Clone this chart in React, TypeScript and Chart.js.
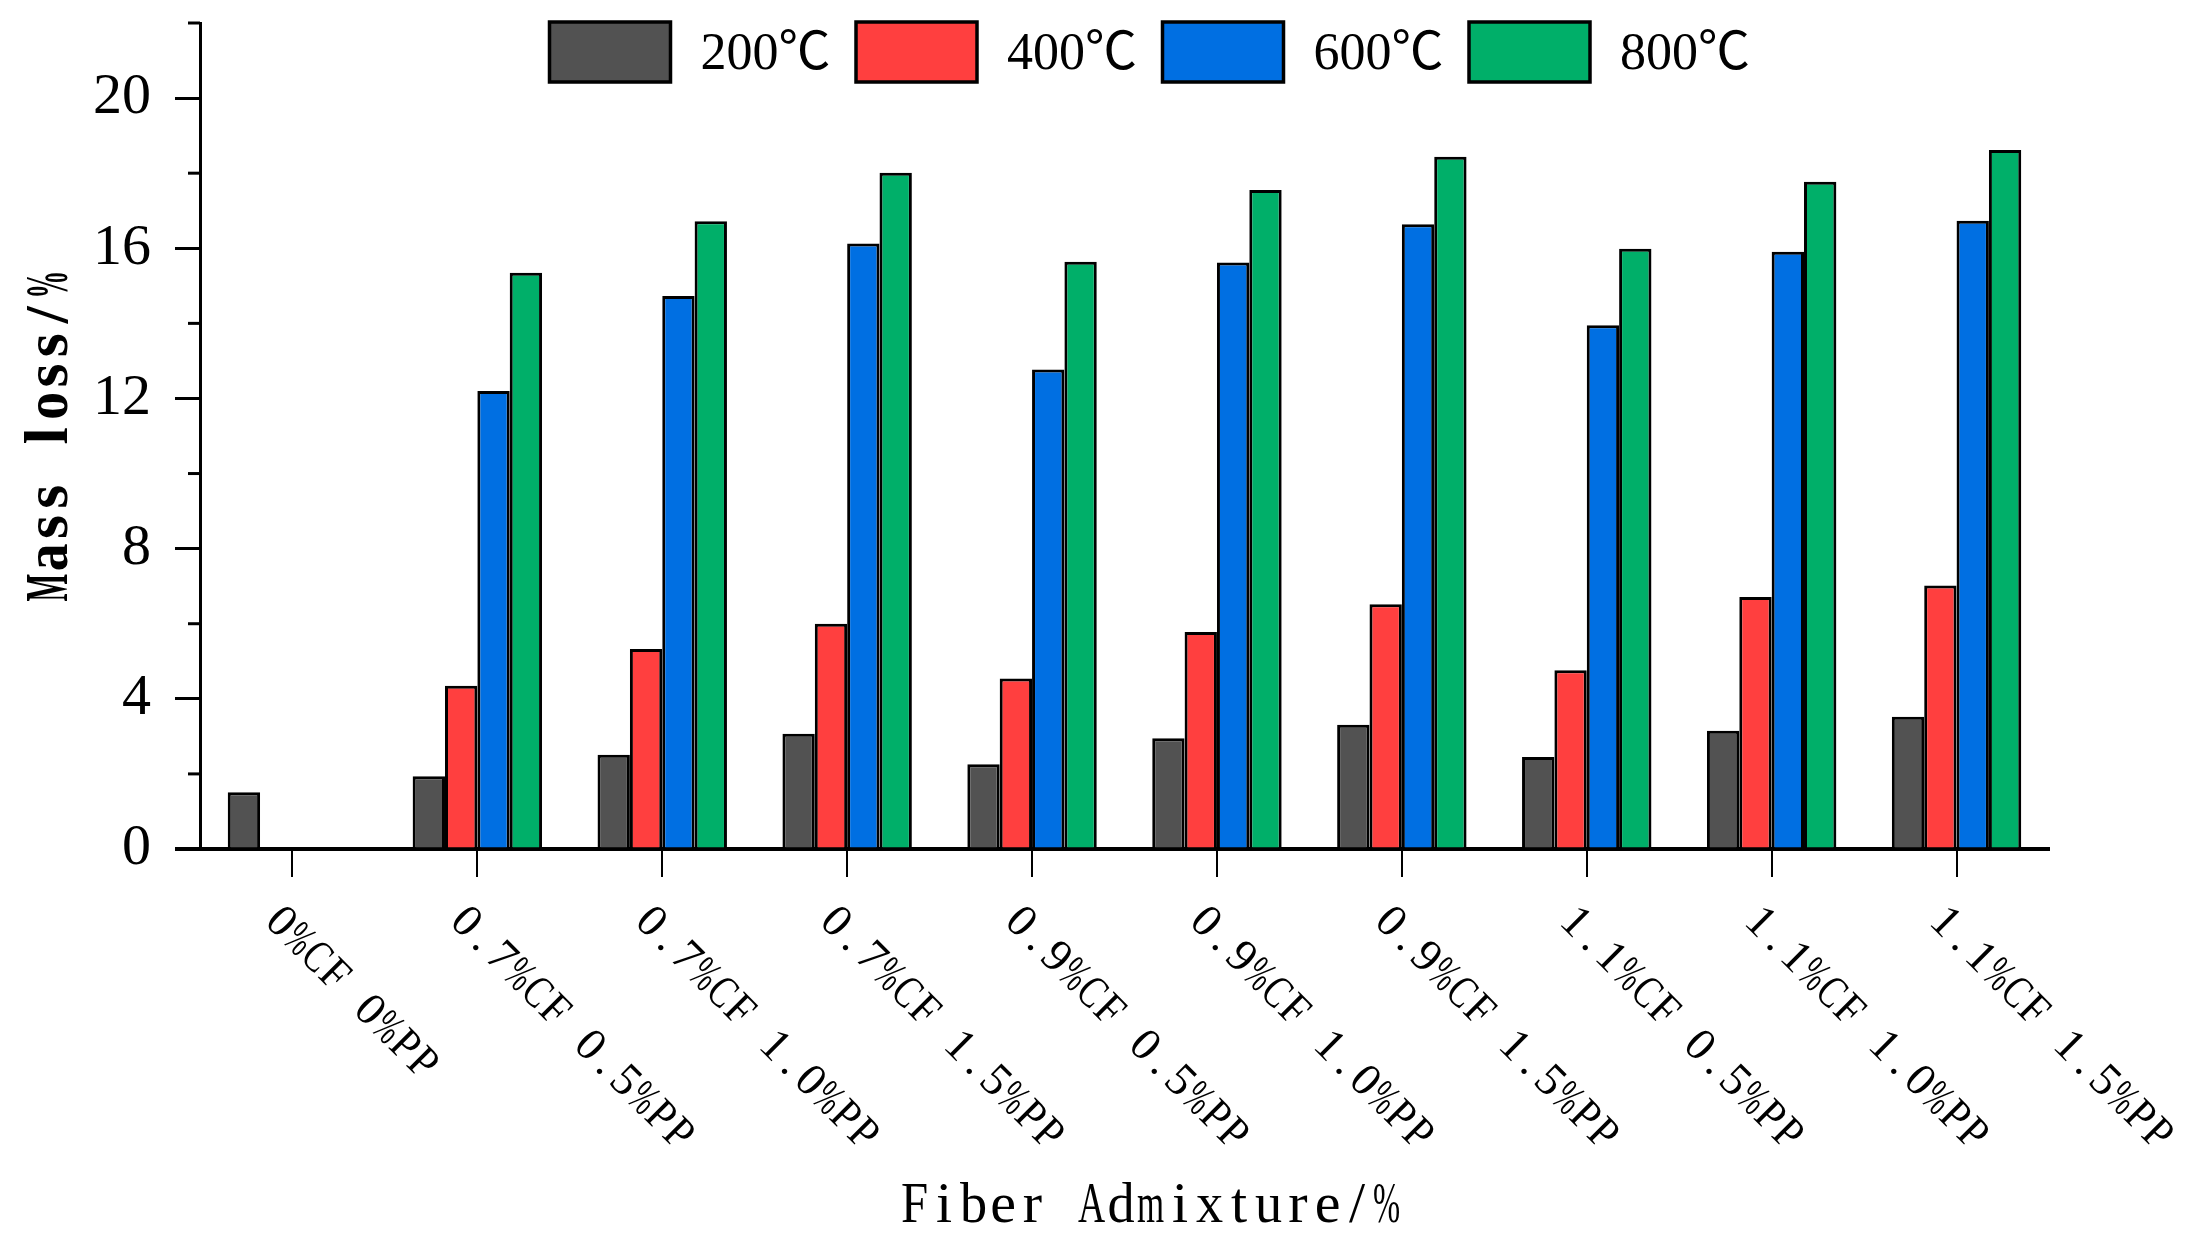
import { useEffect, useRef } from 'react'
import { Chart, registerables, type Plugin } from 'chart.js'

Chart.register(...registerables)

const categories = [
  '0%CF 0%PP',
  '0.7%CF 0.5%PP',
  '0.7%CF 1.0%PP',
  '0.7%CF 1.5%PP',
  '0.9%CF 0.5%PP',
  '0.9%CF 1.0%PP',
  '0.9%CF 1.5%PP',
  '1.1%CF 0.5%PP',
  '1.1%CF 1.0%PP',
  '1.1%CF 1.5%PP',
]
const seriesLabels = ['200℃', '400℃', '600℃', '800℃']
const loss200 = [1.51, 1.94, 2.51, 3.07, 2.26, 2.95, 3.31, 2.45, 3.15, 3.52]
const loss400 = [null, 4.35, 5.33, 6.0, 4.54, 5.78, 6.52, 4.76, 6.71, 7.02]
const loss600 = [null, 12.2, 14.73, 16.13, 12.77, 15.62, 16.64, 13.95, 15.91, 16.73]
const loss800 = [null, 15.35, 16.72, 18.01, 15.64, 17.55, 18.44, 15.99, 17.77, 18.62]
const seriesColors = ['#525252', '#FF3F3F', '#006FE2', '#00AF69']
const yMax = 22
const yStep = 2
const yLabelEvery = 4
const xTitle = 'Fiber Admixture/%'
const yTitle = 'Mass loss/%'

const serif = '"Liberation Serif", "Noto Sans CJK SC", serif'

// draw text with fixed-width cells, like the SimSun look of the original
const drawMono = (
  ctx: CanvasRenderingContext2D,
  text: string,
  x: number,
  y: number,
  angle: number,
  cell: number,
  font: string,
  centered: boolean,
) => {
  ctx.save()
  ctx.translate(x, y)
  ctx.rotate(angle)
  ctx.font = font
  ctx.textAlign = 'center'
  ctx.textBaseline = 'middle'
  ctx.fillStyle = '#000'
  const start = centered ? -(text.length * cell) / 2 : 0
  Array.from(text).forEach((ch, i) => {
    if (ch === ' ') return
    const w = ctx.measureText(ch).width
    const sx = w > cell * 0.92 ? (cell * 0.92) / w : 1
    ctx.save()
    ctx.translate(start + (i + 0.5) * cell, 0)
    ctx.scale(sx, 1)
    ctx.fillText(ch, 0, 0)
    ctx.restore()
  })
  ctx.restore()
}

const axisDecor: Plugin<'bar'> = {
  id: 'axisDecor',
  afterDraw(chart) {
    const { ctx, chartArea, scales } = chart
    const xs = scales.x
    const ys = scales.y

    ctx.save()
    ctx.strokeStyle = '#000'
    ctx.lineWidth = 3
    ys.ticks.forEach((t) => {
      if (t.value % yLabelEvery === 0) return
      const py = ys.getPixelForValue(t.value)
      ctx.beginPath()
      ctx.moveTo(chartArea.left - 12, py)
      ctx.lineTo(chartArea.left, py)
      ctx.stroke()
    })
    ctx.lineWidth = 4
    ctx.beginPath()
    ctx.moveTo(chartArea.left - 25, chartArea.bottom)
    ctx.lineTo(chartArea.left, chartArea.bottom)
    ctx.stroke()

    // legend in one row inside the top of the plot
    const itemStep = 306.5
    const boxW = 121
    const boxH = 60
    const legendX = (chartArea.left + chartArea.right) / 2 + 23 - (itemStep * chart.data.datasets.length - 30) / 2
    const legendY = chartArea.top - 1
    ctx.font = `52px ${serif}`
    ctx.textAlign = 'left'
    ctx.textBaseline = 'middle'
    chart.data.datasets.forEach((ds, i) => {
      const bx = legendX + i * itemStep
      ctx.fillStyle = ds.backgroundColor as string
      ctx.fillRect(bx, legendY, boxW, boxH)
      ctx.lineWidth = 3.5
      ctx.strokeStyle = '#000'
      ctx.strokeRect(bx, legendY, boxW, boxH)
      ctx.fillStyle = '#000'
      ctx.fillText(ds.label ?? '', bx + boxW + 30, legendY + boxH / 2 + 3)
    })
    ctx.restore()

    categories.forEach((label, i) => {
      drawMono(ctx, label, xs.getPixelForTick(i) - 21, chartArea.bottom + 65, Math.PI / 4, 25, `46px ${serif}`, false)
    })
    drawMono(ctx, xTitle, (chartArea.left + chartArea.right) / 2 + 26, chartArea.bottom + 358, 0, 29.5, `58px ${serif}`, true)
    drawMono(ctx, yTitle, 51, (chartArea.top + chartArea.bottom) / 2, -Math.PI / 2, 30.3, `bold 62px ${serif}`, true)
  },
}

const App = () => {
  const canvasRef = useRef<HTMLCanvasElement | null>(null)

  useEffect(() => {
    if (!canvasRef.current) return undefined
    const seriesData = [loss200, loss400, loss600, loss800]

    const chart = new Chart(canvasRef.current, {
      type: 'bar',
      data: {
        labels: categories,
        datasets: seriesLabels.map((label, i) => ({
          label,
          data: seriesData[i],
          backgroundColor: seriesColors[i],
          borderColor: '#000',
          borderWidth: 3,
          barPercentage: 1,
          categoryPercentage: 0.7,
        })),
      },
      options: {
        animation: false,
        responsive: true,
        maintainAspectRatio: false,
        layout: { padding: { left: 0, top: 23, right: 137, bottom: 0 } },
        scales: {
          x: {
            grid: {
              display: true,
              drawOnChartArea: false,
              drawTicks: true,
              tickLength: 28,
              offset: false,
              lineWidth: 2,
              color: '#000',
            },
            border: { display: true, color: '#000', width: 4 },
            ticks: { display: false },
            afterFit: (scale: any) => {
              scale.height = 1253 - 849
              scale.paddingLeft = 0
              scale.paddingRight = 0
            },
          },
          y: {
            min: 0,
            max: yMax,
            grid: {
              display: true,
              drawOnChartArea: false,
              drawTicks: true,
              tickLength: 25,
              lineWidth: 3,
              color: (c: any) => (c.tick && c.tick.value % yLabelEvery === 0 ? '#000' : 'rgba(0,0,0,0)'),
            },
            border: { display: true, color: '#000', width: 3 },
            ticks: {
              stepSize: yStep,
              padding: 24,
              color: '#000',
              font: { family: serif, size: 58 },
              callback: (v: any) => (Number(v) % yLabelEvery === 0 ? String(v) : ''),
            },
            afterFit: (scale: any) => {
              scale.width = 200
              scale.paddingTop = 0
              scale.paddingBottom = 0
            },
          },
        },
        plugins: {
          legend: { display: false },
          tooltip: { enabled: false },
        },
      },
      plugins: [axisDecor],
    })

    return () => {
      chart.destroy()
    }
  }, [])

  return (
    <div style={{ position: 'fixed', left: 0, top: 0, width: 2186, height: 1253, background: '#fff' }}>
      <canvas ref={canvasRef} />
    </div>
  )
}

export default App
